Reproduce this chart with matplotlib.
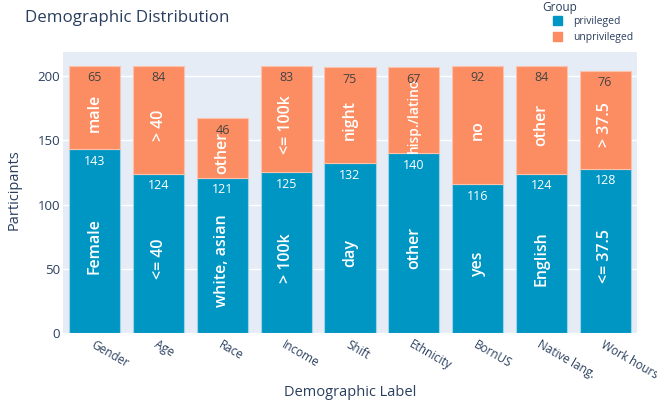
import matplotlib
matplotlib.use("Agg")
import matplotlib.pyplot as plt
from matplotlib.patches import Patch

categories = ["Gender", "Age", "Race", "Income", "Shift", "Ethnicity", "BornUS", "Native lang.", "Work hours"]
priv_values = [143, 124, 121, 125, 132, 140, 116, 124, 128]
unpriv_values = [65, 84, 46, 83, 75, 67, 92, 84, 76]
priv_labels = ["Female", "<= 40", "white, asian", "> 100k", "day", "other", "yes", "English", "<= 37.5"]
unpriv_labels = ["male", "> 40", "other", "<= 100k", "night", "hisp./latino", "no", "other", "> 37.5"]
yticks = [0, 50, 100, 150, 200]

plt.rcParams['font.family'] = ['Open Sans', 'DejaVu Sans']
TXT = "#2a3f5f"
BLUE = "#0096c4"
ORANGE = "#fc8c61"

fig = plt.figure(figsize=(6.57, 4.04), dpi=100)
ax = fig.add_axes([63/657, 1 - 333/404, 574/657, 281/404])
ax.set_facecolor("#e5ecf6")
for s in ax.spines.values():
    s.set_visible(False)

x = list(range(len(categories)))
ax.bar(x, priv_values, width=0.8, color=BLUE, edgecolor="#9fd3e6", linewidth=0.8, zorder=3)
ax.bar(x, unpriv_values, width=0.8, bottom=priv_values, color=ORANGE, edgecolor="#fbc3ab", linewidth=0.8, zorder=3)

ax.set_xlim(-0.5, len(categories) - 0.5)
ax.set_ylim(0, 218.7)

renderer = fig.canvas.get_renderer()

def seg_label(i, bottom, height, label):
    t = ax.text(i, bottom + (height - 8) / 2, label, rotation=90, ha="center", va="center",
                color="white", fontsize=11.5, fontweight="semibold", zorder=4)
    ext = t.get_window_extent(renderer)
    y0 = ax.transData.transform((0, bottom))[1]
    y1 = ax.transData.transform((0, bottom + height))[1]
    avail = (y1 - y0) * 0.88
    if ext.height > avail:
        t.set_fontsize(11.5 * avail / ext.height)
    return t

for i in x:
    p = priv_values[i]
    u = unpriv_values[i]
    seg_label(i, 0, p, priv_labels[i])
    seg_label(i, p, u, unpriv_labels[i])
    ax.annotate(str(p), (i, p), xytext=(0, -4), textcoords="offset points",
                ha="center", va="top", color="white", fontsize=9, zorder=5)
    ax.annotate(str(u), (i, p + u), xytext=(0, -4), textcoords="offset points",
                ha="center", va="top", color="#444444", fontsize=9, zorder=5)

ax.set_yticks(yticks)
ax.yaxis.grid(True, color="white", linewidth=1, zorder=0)
ax.tick_params(axis="both", length=0, colors=TXT, labelsize=9.5)
ax.tick_params(axis="y", pad=2)
ax.set_xticks(x)
ax.set_xticklabels(categories, rotation=-30, ha="left", va="top", rotation_mode="anchor", fontsize=8.5)
for lbl in ax.get_xticklabels():
    lbl.set_color(TXT)

fig.text(14/657, 1 - 190/404, "Participants", color=TXT, fontsize=10.5, rotation=90, ha="center", va="center")
fig.text(350/657, 1 - 393/404, "Demographic Label", color=TXT, fontsize=10.5, ha="center", va="center")

fig.text(25/657, 1 - 18/404, "Demographic Distribution", color=TXT, fontsize=12.2, va="center", ha="left")

fig.text(542/657, 1 - 7/404, "Group", color=TXT, fontsize=8.5, va="center", ha="left")
handles = [Patch(facecolor=BLUE, edgecolor=BLUE), Patch(facecolor=ORANGE, edgecolor=ORANGE)]
leg = fig.legend(handles, ["privileged", "unprivileged"],
                 loc="upper left", bbox_to_anchor=(551/657, 1 - 14/404), frameon=False,
                 fontsize=7.5, handlelength=0.9, handleheight=0.9,
                 handletextpad=1.0, labelspacing=0.45, borderpad=0.2, borderaxespad=0)
for t in leg.get_texts():
    t.set_color(TXT)

fig.savefig("out.png", dpi=100)
